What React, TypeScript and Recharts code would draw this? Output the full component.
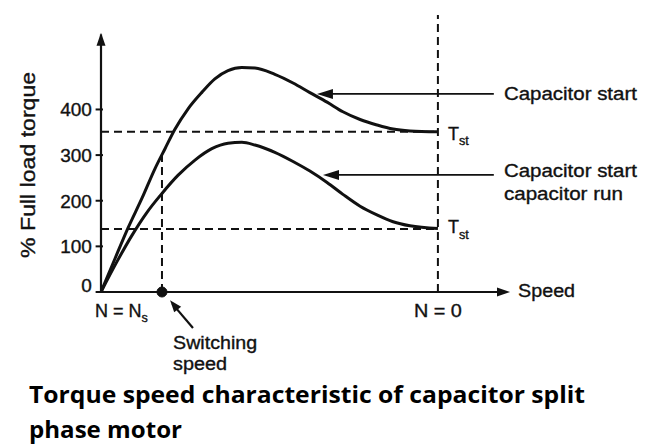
import React from 'react';
import { ComposedChart, Line, XAxis, YAxis, ReferenceLine, ReferenceDot } from 'recharts';

// Capacitor start motor curve (speed units: 0 = N=Ns origin, 100 = N=0 standstill)
const speedCapStart = [0, 4.2, 8.0, 12.2, 16.0, 19.0, 21.9, 25.8, 30.0, 33.8, 37.7, 41.8, 45.7, 51.6, 57.0, 62.0, 67.1, 71.8, 76.9, 81.9, 86.7, 91.7, 100];
const torqueCapStart = [0, 74, 140, 206, 270, 314, 356, 401, 438, 467, 485, 492, 491, 477, 458, 437, 416, 395, 378, 366, 357, 353, 351];

// Capacitor start capacitor run motor curve
const speedCapRun = [0, 4.7, 9.1, 13.5, 18.1, 22.9, 27.9, 32.9, 37.7, 41.8, 45.7, 51.6, 57.0, 62.0, 67.1, 71.8, 76.9, 81.9, 86.7, 91.7, 100];
const torqueCapRun = [0, 66, 123, 173, 216, 256, 289, 314, 326, 328, 322, 306, 286, 265, 240, 214, 188, 169, 154, 145, 139];

const yTicks = [0, 100, 200, 300, 400];
const tstCapStart = 351;
const tstCapRun = 138;
const switchingSpeed = 18.1;
const switchingTorque = 303;
const standstillSpeed = 100;
const xMax = 121.4;
const yMax = 607;
const yArrowTop = 568;

const capStartData = speedCapStart.map((s, i) => ({ speed: s, torque: torqueCapStart[i] }));
const capRunData = speedCapRun.map((s, i) => ({ speed: s, torque: torqueCapRun[i] }));

const INK = '#111';
const FONT = '"Liberation Sans", Arial, sans-serif';

const arrowHead = (angle: number, len = 13, half = 4.5) => (props: any) => {
  const { cx, cy } = props;
  if (cx == null || cy == null) return <g />;
  return (
    <polygon
      points={`0,0 ${-len},${-half} ${-len},${half}`}
      transform={`translate(${cx},${cy}) rotate(${angle})`}
      fill={INK}
    />
  );
};

const textAt = (
  text: string,
  opts: { size?: number; anchor?: string; len?: number; sub?: string; rotate?: number; dy?: number } = {}
) => (props: any) => {
  const { cx, cy } = props;
  if (cx == null || cy == null) return <g />;
  const size = opts.size ?? 18;
  const transform = opts.rotate ? `rotate(${opts.rotate},${cx},${cy})` : undefined;
  return (
    <text
      x={cx}
      y={cy}
      dy={opts.dy}
      fontSize={size}
      fontFamily={FONT}
      fill={INK}
      stroke={INK}
      strokeWidth={0.35}
      textAnchor={(opts.anchor as any) ?? 'start'}
      dominantBaseline={opts.rotate ? 'central' : 'alphabetic'}
      transform={transform}
      textLength={opts.len}
      lengthAdjust={opts.len ? 'spacingAndGlyphs' : undefined}
    >
      {text}
      {opts.sub ? (
        <tspan fontSize={size * 0.7} dy={size * 0.3}>
          {opts.sub}
        </tspan>
      ) : null}
    </text>
  );
};

const labels: { x: number; y: number; render: any }[] = [
  { x: 119.6, y: 421, render: textAt('Capacitor start', { len: 133 }) },
  { x: 119.6, y: 252, render: textAt('Capacitor start', { len: 133 }) },
  { x: 119.6, y: 202, render: textAt('capacitor run', { len: 119 }) },
  { x: 103, y: 333, render: textAt('T', { sub: 'st' }) },
  { x: 103, y: 129, render: textAt('T', { sub: 'st' }) },
  { x: -1.8, y: -55, render: textAt('N = N', { size: 18, sub: 's' }) },
  { x: 100, y: -55, render: textAt('N = 0', { size: 18, anchor: 'middle', len: 48 }) },
  { x: 123.8, y: -11, render: textAt('Speed', { size: 18, len: 57 }) },
  { x: 21.4, y: -125, render: textAt('Switching', { size: 18, len: 84 }) },
  { x: 21.4, y: -171, render: textAt('speed', { size: 18, len: 54 }) },
  { x: -21.7, y: 278.5, render: textAt('% Full load torque', { size: 20, anchor: 'middle', len: 186, rotate: -90 }) },
];

export default function App() {
  return (
    <div style={{ position: 'absolute', left: 0, top: 0, width: 653, height: 446, background: '#fff' }}>
      <ComposedChart width={653} height={446} margin={{ top: 15, right: 143, bottom: 154, left: 101 }}>
        <XAxis dataKey="speed" type="number" domain={[0, xMax]} hide allowDataOverflow />
        <YAxis type="number" domain={[0, yMax]} hide allowDataOverflow />

        {/* axes with arrows */}
        <ReferenceLine segment={[{ x: 0, y: 0 }, { x: 0, y: yArrowTop - 4 }]} stroke={INK} strokeWidth={2.2} ifOverflow="visible" />
        <ReferenceDot x={0} y={yArrowTop} r={0} ifOverflow="visible" shape={arrowHead(-90)} />
        <ReferenceLine segment={[{ x: 0, y: 0 }, { x: xMax - 2, y: 0 }]} stroke={INK} strokeWidth={2.2} ifOverflow="visible" />
        <ReferenceDot x={xMax} y={0} r={0} ifOverflow="visible" shape={arrowHead(0)} />

        {/* y ticks */}
        {yTicks.map((t) => (
          <ReferenceLine key={`tl${t}`} segment={[{ x: -1.6, y: t }, { x: 0.6, y: t }]} stroke={INK} strokeWidth={2} ifOverflow="visible" />
        ))}
        {yTicks.map((t) => (
          <ReferenceDot
            key={`tx${t}`}
            x={-2.7}
            y={t === 0 ? t + 15 : t}
            r={0}
            ifOverflow="visible"
            shape={textAt(String(t), { size: 19, anchor: 'end', dy: 7 })}
          />
        ))}

        {/* dashed guide lines */}
        <ReferenceLine segment={[{ x: 0, y: tstCapStart }, { x: standstillSpeed, y: tstCapStart }]} stroke={INK} strokeWidth={2} strokeDasharray="8 5" ifOverflow="visible" />
        <ReferenceLine segment={[{ x: 0, y: tstCapRun }, { x: standstillSpeed, y: tstCapRun }]} stroke={INK} strokeWidth={2} strokeDasharray="8 5" ifOverflow="visible" />
        <ReferenceLine segment={[{ x: standstillSpeed, y: 0 }, { x: standstillSpeed, y: yMax }]} stroke={INK} strokeWidth={2} strokeDasharray="8 5" ifOverflow="visible" />
        <ReferenceLine segment={[{ x: switchingSpeed, y: 0 }, { x: switchingSpeed, y: switchingTorque }]} stroke={INK} strokeWidth={2} strokeDasharray="8 5" ifOverflow="visible" />

        {/* curves */}
        <Line data={capStartData} dataKey="torque" type="monotone" stroke={INK} strokeWidth={3} dot={false} isAnimationActive={false} />
        <Line data={capRunData} dataKey="torque" type="monotone" stroke={INK} strokeWidth={3} dot={false} isAnimationActive={false} />

        {/* callout arrows */}
        <ReferenceLine segment={[{ x: 66, y: 434 }, { x: 116.6, y: 434 }]} stroke={INK} strokeWidth={1.8} ifOverflow="visible" />
        <ReferenceDot x={64.1} y={434} r={0} ifOverflow="visible" shape={arrowHead(180, 16, 5)} />
        <ReferenceLine segment={[{ x: 68, y: 256.6 }, { x: 116.6, y: 256.6 }]} stroke={INK} strokeWidth={1.8} ifOverflow="visible" />
        <ReferenceDot x={65.9} y={256.6} r={0} ifOverflow="visible" shape={arrowHead(180, 16, 5)} />

        {/* switching speed point and arrow */}
        <ReferenceDot x={switchingSpeed} y={0} r={5} fill={INK} stroke={INK} ifOverflow="visible" />
        <ReferenceLine segment={[{ x: 27.3, y: -79 }, { x: 21.2, y: -26 }]} stroke={INK} strokeWidth={2.2} ifOverflow="visible" />
        <ReferenceDot x={20.5} y={-18} r={0} ifOverflow="visible" shape={arrowHead(-129.4, 12, 4.5)} />

        {labels.map((l, i) => (
          <ReferenceDot key={i} x={l.x} y={l.y} r={0} ifOverflow="visible" shape={l.render} />
        ))}
      </ComposedChart>
      <svg width={653} height={446} style={{ position: 'absolute', left: 0, top: 0, pointerEvents: 'none' }}>
        <text x={29} y={403} fontFamily='"Open Sans", sans-serif' fontWeight={700} fontSize={24} fill="#000" textLength={556} lengthAdjust="spacingAndGlyphs">
          Torque speed characteristic of capacitor split
        </text>
        <text x={29} y={438} fontFamily='"Open Sans", sans-serif' fontWeight={700} fontSize={24} fill="#000" textLength={153} lengthAdjust="spacingAndGlyphs">
          phase motor
        </text>
      </svg>
    </div>
  );
}
